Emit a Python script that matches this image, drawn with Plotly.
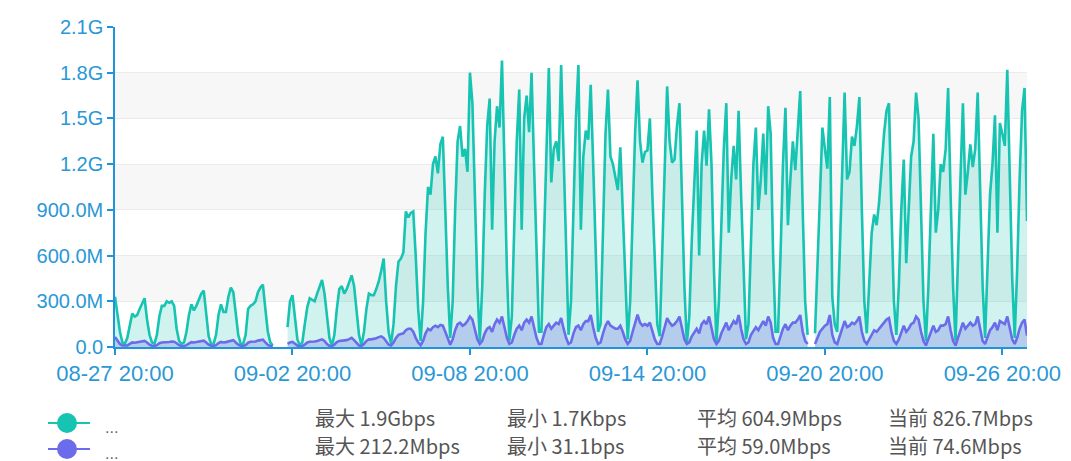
import pandas as pd
import plotly.graph_objects as go

# ---------------- data (Gbps, sampled every 2 hours from 08-27 20:00) ----------------
start_time = "2024-08-27 20:00"
step = "2h"

inbound_gbps = [
    0.33, 0.22, 0.10, 0.03, 0.02, 0.06, 0.15, 0.22, 0.20, 0.21, 0.25, 0.28,
    0.32, 0.18, 0.08, 0.03, 0.02, 0.08, 0.20, 0.27, 0.27, 0.30, 0.29, 0.30,
    0.27, 0.12, 0.04, 0.02, 0.03, 0.10, 0.21, 0.28, 0.24, 0.27, 0.31, 0.35,
    0.37, 0.20, 0.07, 0.02, 0.02, 0.08, 0.21, 0.28, 0.23, 0.23, 0.33, 0.39,
    0.36, 0.22, 0.08, 0.02, 0.02, 0.08, 0.25, 0.27, 0.28, 0.30, 0.36, 0.39,
    0.41, 0.25, 0.10, 0.03, 0.01, None, None, None, None, None, 0.13, 0.30,
    0.34, 0.18, 0.05, 0.01, 0.03, 0.15, 0.26, 0.32, 0.31, 0.30, 0.35, 0.39,
    0.44, 0.35, 0.18, 0.06, 0.01, 0.08, 0.25, 0.38, 0.40, 0.35, 0.38, 0.42,
    0.47, 0.40, 0.25, 0.08, 0.01, 0.10, 0.25, 0.35, 0.34, 0.34, 0.38, 0.43,
    0.50, 0.58, 0.30, 0.10, 0.02, 0.15, 0.40, 0.56, 0.58, 0.62, 0.89, 0.85,
    0.88, 0.89, 0.60, 0.25, 0.04, 0.30, 0.75, 1.05, 1.00, 1.20, 1.25, 1.14,
    1.33, 1.38, 0.90, 0.40, 0.06, 0.30, 0.90, 1.35, 1.45, 1.25, 1.30, 1.15,
    1.80, 1.60, 1.00, 0.40, 0.04, 0.40, 1.00, 1.45, 1.63, 0.77, 1.35, 1.58,
    1.44, 1.88, 1.20, 0.50, 0.04, 0.20, 0.80, 1.35, 1.69, 0.77, 1.50, 1.65,
    1.41, 1.80, 1.20, 0.60, 0.10, 0.10, 0.70, 1.40, 1.83, 1.08, 1.30, 1.35,
    1.22, 1.85, 1.20, 0.60, 0.08, 0.30, 0.90, 1.50, 1.85, 0.77, 1.25, 1.42,
    1.36, 1.72, 1.20, 0.60, 0.10, 0.15, 0.80, 1.40, 1.69, 1.25, 1.20, 1.10,
    1.03, 1.31, 0.90, 0.40, 0.05, 0.30, 0.90, 1.40, 1.75, 1.35, 1.21, 1.28,
    1.29, 1.50, 1.00, 0.50, 0.15, 0.07, 0.60, 1.20, 1.71, 1.35, 1.21, 1.23,
    1.45, 1.60, 1.00, 0.40, 0.02, 0.20, 0.70, 1.10, 1.42, 0.60, 1.20, 1.42,
    1.19, 1.56, 1.20, 0.50, 0.03, 0.30, 0.80, 1.30, 1.60, 0.75, 1.10, 1.32,
    1.10, 1.55, 1.00, 0.50, 0.05, 0.15, 0.70, 1.20, 1.44, 0.90, 1.10, 1.40,
    1.00, 1.58, 1.40, 0.60, 0.10, 0.10, 0.60, 1.20, 1.57, 0.80, 1.10, 1.35,
    1.16, 1.45, 1.68, 0.90, 0.30, 0.08, None, None, 0.09, 0.50, 1.00, 1.44,
    1.30, 1.17, 1.64, 0.33, 0.15, 0.10, 0.60, 1.20, 1.67, 1.10, 1.15, 1.38,
    1.32, 1.45, 1.64, 0.90, 0.30, 0.09, 0.40, 0.75, 0.87, 0.80, 0.95, 1.20,
    1.40, 1.55, 1.60, 0.90, 0.30, 0.08, 0.40, 0.90, 1.23, 0.55, 0.90, 1.25,
    1.35, 1.67, 1.50, 0.90, 0.30, 0.04, 0.40, 0.90, 1.40, 0.75, 0.90, 1.20,
    1.15, 1.30, 1.70, 1.00, 0.40, 0.04, 0.50, 1.10, 1.60, 1.00, 1.15, 1.33,
    1.18, 1.30, 1.67, 1.00, 0.40, 0.06, 0.50, 1.00, 1.20, 1.52, 0.75, 1.47,
    1.40, 1.32, 1.82, 1.10, 0.45, 0.06, 0.50, 1.10, 1.55, 1.70, 0.8267,
]

outbound_gbps = [
    0.066, 0.040, 0.020, 0.010, 0.008, 0.010, 0.020, 0.030, 0.028, 0.030, 0.032, 0.035,
    0.040, 0.030, 0.015, 0.008, 0.007, 0.012, 0.025, 0.030, 0.030, 0.032, 0.033, 0.036,
    0.035, 0.025, 0.012, 0.007, 0.007, 0.012, 0.025, 0.032, 0.030, 0.033, 0.036, 0.040,
    0.042, 0.030, 0.015, 0.008, 0.007, 0.012, 0.026, 0.033, 0.030, 0.032, 0.038, 0.042,
    0.045, 0.030, 0.015, 0.008, 0.007, 0.012, 0.028, 0.034, 0.033, 0.036, 0.042, 0.046,
    0.048, 0.030, 0.014, 0.007, 0.006, None, None, None, None, None, 0.020, 0.030,
    0.034, 0.020, 0.010, 0.005, 0.006, 0.015, 0.030, 0.035, 0.035, 0.036, 0.040, 0.045,
    0.050, 0.040, 0.020, 0.008, 0.006, 0.015, 0.032, 0.040, 0.042, 0.040, 0.045, 0.052,
    0.060, 0.045, 0.025, 0.010, 0.007, 0.020, 0.040, 0.050, 0.050, 0.052, 0.058, 0.065,
    0.070, 0.060, 0.035, 0.015, 0.010, 0.030, 0.060, 0.080, 0.085, 0.090, 0.110, 0.120,
    0.120, 0.100, 0.060, 0.030, 0.012, 0.040, 0.090, 0.120, 0.110, 0.130, 0.140, 0.130,
    0.145, 0.140, 0.100, 0.050, 0.015, 0.050, 0.110, 0.150, 0.160, 0.140, 0.150, 0.170,
    0.200, 0.180, 0.110, 0.050, 0.020, 0.040, 0.090, 0.120, 0.130, 0.100, 0.150, 0.180,
    0.160, 0.200, 0.130, 0.060, 0.020, 0.030, 0.080, 0.120, 0.140, 0.110, 0.160, 0.180,
    0.160, 0.200, 0.130, 0.060, 0.020, 0.020, 0.080, 0.130, 0.150, 0.120, 0.140, 0.160,
    0.150, 0.190, 0.120, 0.060, 0.020, 0.030, 0.090, 0.130, 0.140, 0.110, 0.150, 0.170,
    0.170, 0.210, 0.130, 0.060, 0.020, 0.030, 0.090, 0.140, 0.170, 0.140, 0.130, 0.120,
    0.120, 0.140, 0.100, 0.050, 0.020, 0.040, 0.100, 0.160, 0.2122, 0.160, 0.140, 0.150,
    0.140, 0.160, 0.110, 0.050, 0.020, 0.020, 0.070, 0.130, 0.190, 0.160, 0.140, 0.150,
    0.170, 0.200, 0.120, 0.050, 0.020, 0.030, 0.070, 0.100, 0.120, 0.090, 0.150, 0.170,
    0.150, 0.200, 0.130, 0.050, 0.020, 0.040, 0.090, 0.130, 0.160, 0.110, 0.140, 0.170,
    0.150, 0.210, 0.120, 0.050, 0.020, 0.030, 0.080, 0.110, 0.130, 0.110, 0.140, 0.170,
    0.140, 0.200, 0.160, 0.060, 0.020, 0.020, 0.070, 0.120, 0.150, 0.110, 0.140, 0.160,
    0.160, 0.180, 0.210, 0.100, 0.040, 0.020, None, None, 0.020, 0.060, 0.100, 0.120,
    0.140, 0.150, 0.210, 0.080, 0.030, 0.020, 0.070, 0.130, 0.170, 0.130, 0.140, 0.160,
    0.150, 0.170, 0.200, 0.100, 0.040, 0.020, 0.050, 0.090, 0.110, 0.100, 0.120, 0.140,
    0.160, 0.180, 0.190, 0.100, 0.040, 0.020, 0.050, 0.100, 0.140, 0.100, 0.120, 0.150,
    0.160, 0.200, 0.180, 0.100, 0.040, 0.010, 0.050, 0.100, 0.140, 0.100, 0.110, 0.140,
    0.140, 0.150, 0.200, 0.110, 0.040, 0.010, 0.060, 0.120, 0.160, 0.120, 0.140, 0.160,
    0.140, 0.150, 0.200, 0.110, 0.040, 0.020, 0.060, 0.110, 0.130, 0.160, 0.110, 0.170,
    0.160, 0.150, 0.200, 0.120, 0.050, 0.020, 0.060, 0.120, 0.160, 0.180, 0.0746,
]

series_names = ["...", "..."]

x_tick_dates = ["2024-08-27 20:00", "2024-09-02 20:00", "2024-09-08 20:00",
                "2024-09-14 20:00", "2024-09-20 20:00", "2024-09-26 20:00"]
x_tick_labels = ["08-27 20:00", "09-02 20:00", "09-08 20:00",
                 "09-14 20:00", "09-20 20:00", "09-26 20:00"]

y_tick_gbps = [0, 0.3, 0.6, 0.9, 1.2, 1.5, 1.8, 2.1]
y_tick_labels = ["0.0", "300.0M", "600.0M", "900.0M", "1.2G", "1.5G", "1.8G", "2.1G"]

stat_names = ["最大", "最小", "平均", "当前"]
stats_inbound = ["1.9Gbps", "1.7Kbps", "604.9Mbps", "826.7Mbps"]
stats_outbound = ["212.2Mbps", "31.1bps", "59.0Mbps", "74.6Mbps"]

# ---------------- styling ----------------
TEAL = "#17c3b1"
PURPLE = "#6b6ce9"
AXIS_BLUE = "#1f94d8"
LABEL_BLUE = "#2a98d6"
FONT = "Liberation Sans"
CJK_FONT = "Noto Sans CJK SC"

times = pd.date_range(start_time, periods=len(inbound_gbps), freq=step)
assert len(outbound_gbps) == len(inbound_gbps)


def segments(values):
    """Split a series into contiguous runs without missing values."""
    runs, cur = [], []
    for i, v in enumerate(values):
        if v is None:
            if cur:
                runs.append(cur)
                cur = []
        else:
            cur.append(i)
    if cur:
        runs.append(cur)
    return runs


fig = go.Figure()
for values, color, fillcolor, name in [
    (inbound_gbps, TEAL, "rgba(23,195,177,0.20)", series_names[0]),
    (outbound_gbps, PURPLE, "rgba(107,108,233,0.28)", series_names[1]),
]:
    for run in segments(values):
        fig.add_trace(go.Scatter(
            x=times[run], y=[values[i] * 1e9 for i in run], name=name,
            mode="lines", line=dict(color=color, width=2.6),
            fill="tozeroy", fillcolor=fillcolor, showlegend=False))

# The page body has an 8px margin; compensate so the plot lands where intended.
OFF = 8
PAGE_W, PAGE_H = 1071, 461
FIG_W, FIG_H = PAGE_W - OFF, PAGE_H - OFF
# plot area in page pixels
L, R, T, B = 115, 1027, 27, 347
W, H = R - L, B - T
px = lambda x: (x - L) / W
py = lambda y: (B - y) / H

shapes = []
# alternating split-area bands
for lo, hi in [(0.3, 0.6), (0.9, 1.2), (1.5, 1.8)]:
    shapes.append(dict(type="rect", xref="paper", yref="y", x0=0, x1=1,
                       y0=lo * 1e9, y1=hi * 1e9, fillcolor="#f7f7f7",
                       line=dict(width=0), layer="below"))

# custom legend symbols
legend_rows = [(423, TEAL), (449, PURPLE)]
for yy, col in legend_rows:
    shapes.append(dict(type="line", xref="paper", yref="paper",
                       x0=px(48), x1=px(90), y0=py(yy), y1=py(yy),
                       line=dict(color=col, width=2)))
    shapes.append(dict(type="circle", xref="paper", yref="paper",
                       x0=px(57), x1=px(77), y0=py(yy + 10), y1=py(yy - 10),
                       fillcolor=col, line=dict(color=col, width=0)))

annotations = []
for (yy, col), name in zip(legend_rows, series_names):
    annotations.append(dict(xref="paper", yref="paper", x=px(103), y=py(yy + 4),
                            text=name, showarrow=False, xanchor="left",
                            yanchor="middle",
                            font=dict(family=FONT, size=16, color="#666")))

stat_x = [313, 505, 695, 886]
for yy, stats in [(417, stats_inbound), (445, stats_outbound)]:
    for xx, nm, val in zip(stat_x, stat_names, stats):
        annotations.append(dict(xref="paper", yref="paper", x=px(xx), y=py(yy),
                                text=f"{nm} {val}", showarrow=False,
                                xanchor="left", yanchor="middle",
                                font=dict(family=CJK_FONT, size=20, color="#555")))

fig.update_layout(
    width=FIG_W, height=FIG_H,
    margin=dict(l=L - OFF, r=PAGE_W - R, t=T - OFF, b=PAGE_H - B, pad=0,
                autoexpand=False),
    paper_bgcolor="white", plot_bgcolor="white",
    showlegend=False,
    shapes=shapes, annotations=annotations,
    font=dict(family=FONT),
    xaxis=dict(
        type="date", range=[times[0], times[-1]], automargin=False,
        tickvals=pd.to_datetime(x_tick_dates), ticktext=x_tick_labels,
        showgrid=False, zeroline=False,
        showline=True, linecolor=AXIS_BLUE, linewidth=1.5,
        ticks="outside", ticklen=6, tickwidth=1.5, tickcolor=AXIS_BLUE,
        tickfont=dict(family=FONT, size=22, color=LABEL_BLUE),
    ),
    yaxis=dict(
        range=[0, 2.1e9], automargin=False,
        tickvals=[v * 1e9 for v in y_tick_gbps], ticktext=y_tick_labels,
        showgrid=True, gridcolor="#ebebeb", gridwidth=1, zeroline=False,
        showline=True, linecolor=AXIS_BLUE, linewidth=1.5,
        ticks="outside", ticklen=6, tickwidth=1.5, tickcolor=AXIS_BLUE,
        tickfont=dict(family=FONT, size=20, color=LABEL_BLUE),
    ),
)

fig.write_html("out.html")
